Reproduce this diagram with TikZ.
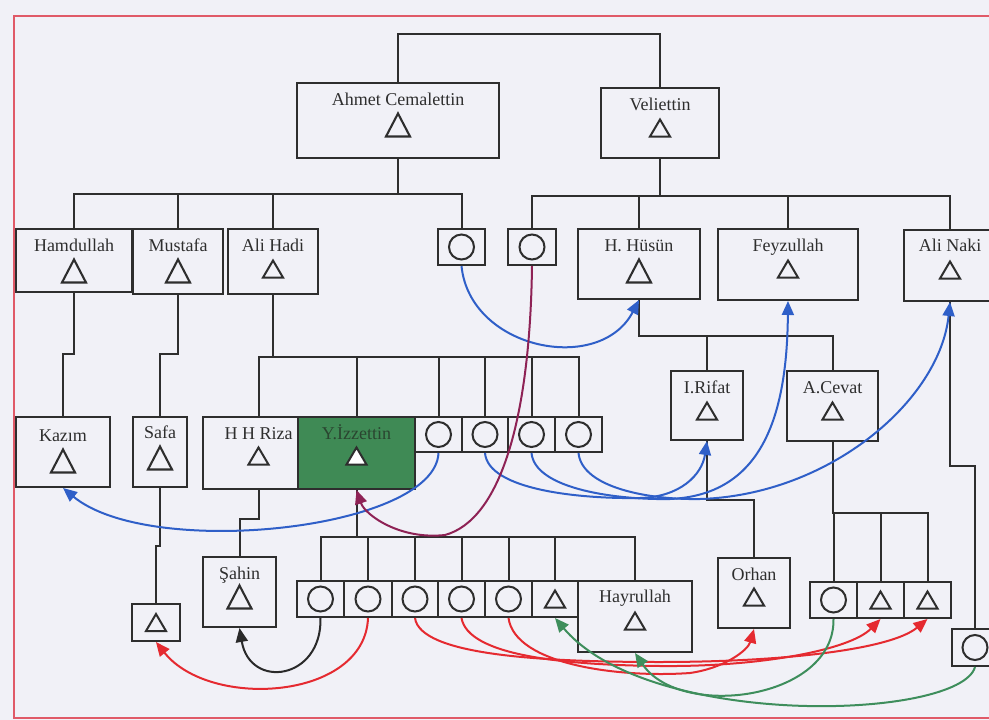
\documentclass[tikz,border=0pt]{standalone}
\usepackage{fontspec}
\setmainfont{Liberation Serif}
\usetikzlibrary{arrows.meta,fit,calc}
\definecolor{bg}{HTML}{F1F1F7}
\definecolor{frm}{HTML}{E05A68}
\definecolor{ink}{HTML}{2E2E2E}
\definecolor{izgreen}{HTML}{3F8A55}
\definecolor{iztext}{HTML}{2A4530}
\definecolor{ablue}{HTML}{2F5FC8}
\definecolor{ared}{HTML}{E52A30}
\definecolor{agreen}{HTML}{3E8E5C}
\definecolor{amaroon}{HTML}{8E2255}
\definecolor{ablack}{HTML}{2A2A2A}
\tikzset{
  box/.style={draw=ink, line width=2pt, inner sep=0pt, rectangle},
  lbl/.style={font=\fontsize{18}{20}\selectfont, text=ink, anchor=base, inner sep=0pt},
  bigtri/.pic={\draw[ink, line width=2.1pt] (-12,11.5) -- (12,11.5) -- (0,-11.5) -- cycle;},
  tri/.pic={\draw[ink, line width=2pt] (-10,8.5) -- (10,8.5) -- (0,-8.5) -- cycle;},
  whtri/.pic={\draw[ink, fill=white, line width=2pt] (-10,8.5) -- (10,8.5) -- (0,-8.5) -- cycle;},
  circ/.pic={\draw[ink, line width=2pt] (0,0) circle[radius=12.5pt];},
  tline/.style={draw=ink, line width=2pt},
  rel/.style={line width=2pt, -{Triangle[length=14pt,width=12pt]}},
}
\newcommand\mkbox[6][]{\node[box,#1,fit={(#3,#4) (#5,#6)}] (#2) {};}
\begin{document}
\begin{tikzpicture}[x=1pt,y=-1pt]
\path[use as bounding box, fill=bg] (0,0) rectangle (989,720);
\clip (0,0) rectangle (989,720);
\draw[frm, line width=2pt] (14,16) rectangle (1010,718);

% ---------- boxes ----------
\mkbox{ahmet}{297}{83}{499}{158}
\mkbox{veli}{601}{88}{719}{158}
\mkbox{hamd}{16}{229}{132}{292}
\mkbox{must}{133}{229}{223}{294}
\mkbox{alih}{228}{229}{318}{294}
\mkbox{cA}{438}{229}{485}{265}
\mkbox{cV}{508}{229}{556}{265}
\mkbox{husun}{578}{229}{700}{299}
\mkbox{feyz}{718}{229}{858}{300}
\mkbox{naki}{904}{230}{996}{301}
\mkbox{kazim}{16}{417}{110}{487}
\mkbox{safa}{133}{417}{187}{487}
\mkbox{stri}{132}{604}{180}{641}
\mkbox{hhr}{203}{417}{298}{489}
\mkbox[fill=izgreen]{yiz}{298}{417}{415}{489}
\mkbox{r1}{415}{417}{462}{452}
\mkbox{r2}{462}{417}{508}{452}
\mkbox{r3}{508}{417}{555}{452}
\mkbox{r4}{555}{417}{602}{452}
\mkbox{sahin}{203}{557}{276}{627}
\mkbox{c1}{297}{581}{344}{617}
\mkbox{c2}{344}{581}{392}{617}
\mkbox{c3}{392}{581}{438}{617}
\mkbox{c4}{438}{581}{485}{617}
\mkbox{c5}{485}{581}{532}{617}
\mkbox{t6}{532}{581}{578}{617}
\mkbox{hayr}{578}{581}{692}{652}
\mkbox{rifat}{671}{371}{743}{440}
\mkbox{cevat}{787}{371}{878}{441}
\mkbox{orhan}{718}{558}{790}{628}
\mkbox{cc1}{810}{582}{857}{618}
\mkbox{ct2}{857}{582}{904}{618}
\mkbox{ct3}{904}{582}{951}{618}
\mkbox{nc}{952}{629}{998}{666}

% ---------- labels ----------
\node[lbl] (ahmet-t) at ($(ahmet.north)+(0,23)$) {Ahmet Cemalettin};
\pic at ($(ahmet.north)+(0,43)$) {bigtri};
\node[lbl] (veli-t) at ($(veli.north)+(0,23)$) {Veliettin};
\pic at ($(veli.north)+(0,41)$) {tri};
\node[lbl] (hamd-t) at ($(hamd.north)+(0,23)$) {Hamdullah};
\pic at ($(hamd.north)+(0,43)$) {bigtri};
\node[lbl] (must-t) at ($(must.north)+(0,23)$) {Mustafa};
\pic at ($(must.north)+(0,43)$) {bigtri};
\node[lbl] (alih-t) at ($(alih.north)+(0,23)$) {Ali Hadi};
\pic at ($(alih.north)+(0,41)$) {tri};
\node[lbl] (husun-t) at ($(husun.north)+(0,23)$) {H. Hüsün};
\pic at ($(husun.north)+(0,43)$) {bigtri};
\node[lbl] (feyz-t) at ($(feyz.north)+(0,23)$) {Feyzullah};
\pic at ($(feyz.north)+(0,41)$) {tri};
\node[lbl] (naki-t) at ($(naki.north)+(0,22)$) {Ali Naki};
\pic at ($(naki.north)+(0,41)$) {tri};
\node[lbl] (kazim-t) at ($(kazim.north)+(0,25)$) {Kazım};
\pic at ($(kazim.north)+(0,45)$) {bigtri};
\node[lbl] (safa-t) at ($(safa.north)+(0,22)$) {Safa};
\pic at ($(safa.north)+(0,42)$) {bigtri};
\node[lbl] (hhr-t) at ($(hhr.north)+(8,23)$) {H H Riza};
\pic at ($(hhr.north)+(8,40)$) {tri};
\node[lbl, text=iztext] (yiz-t) at ($(yiz.north)+(0,23)$) {Y.İzzettin};
\pic at ($(yiz.north)+(0,40)$) {whtri};
\node[lbl] (sahin-t) at ($(sahin.north)+(0,23)$) {Şahin};
\pic at ($(sahin.north)+(0,41)$) {bigtri};
\node[lbl] (hayr-t) at ($(hayr.north)+(0,22)$) {Hayrullah};
\pic at ($(hayr.north)+(0,41)$) {tri};
\node[lbl] (rifat-t) at ($(rifat.north)+(0,23)$) {I.Rifat};
\pic at ($(rifat.north)+(0,41)$) {tri};
\node[lbl] (cevat-t) at ($(cevat.north)+(0,23)$) {A.Cevat};
\pic at ($(cevat.north)+(0,41)$) {tri};
\node[lbl] (orhan-t) at ($(orhan.north)+(0,23)$) {Orhan};
\pic at ($(orhan.north)+(0,40)$) {tri};
\pic at (stri.center) {tri};
\pic at (t6.center) {tri};
\pic at (ct2.center) {tri};
\pic at (ct3.center) {tri};
\foreach \c in {cA,cV,r1,r2,r3,r4,c1,c2,c3,c4,c5,cc1,nc} {\pic at (\c.center) {circ};}

% ---------- family lines ----------
\draw[tline] (ahmet.north) -- ++(0,-48) -| (veli.north);
\coordinate (aj) at ($(ahmet.south)+(0,35)$);
\draw[tline] (ahmet.south) -- (aj);
\draw[tline] (hamd.north) |- (cA.north |- aj) -- (cA.north);
\draw[tline] (must.north) -- (must.north |- aj);
\draw[tline] (alih.north) -- (alih.north |- aj);

\coordinate (vj) at ($(veli.south)+(0,37)$);
\draw[tline] (veli.south) -- (vj);
\draw[tline] (cV.north) |- (naki.north |- vj) -- (naki.north);
\draw[tline] (husun.north) -- (husun.north |- vj);
\draw[tline] (feyz.north) -- (feyz.north |- vj);

\draw[tline] (hamd.south) -- ++(0,61) -| (kazim.north);
\draw[tline] (must.south) -- ++(0,59) -| (safa.north);
\draw[tline] (safa.south) -- ++(0,58) -| (stri.north);

\coordinate (hj) at ($(alih.south)+(0,62)$);
\draw[tline] (alih.south) -- (hj);
\draw[tline] ([xshift=8pt]hhr.north) |- (r4.north |- hj) -- (r4.north);
\foreach \c in {yiz,r1,r2,r3} {\draw[tline] (\c.north) -- (\c.north |- hj);}

\draw[tline] ([xshift=8pt]hhr.south) -- ++(0,29) -| (sahin.north);

\coordinate (yj) at ($(yiz.south)+(0,47)$);
\draw[tline] (yiz.south) -- (yj);
\draw[tline] (c1.north) |- (hayr.north |- yj) -- (hayr.north);
\foreach \c in {c2,c3,c4,c5,t6} {\draw[tline] (\c.north) -- (\c.north |- yj);}

\coordinate (uj) at ($(husun.south)+(0,36)$);
\draw[tline] (husun.south) |- (cevat.north |- uj) -- (cevat.north);
\draw[tline] (rifat.north) -- (rifat.north |- uj);

\draw[tline] (rifat.south) -- ++(0,59) -| (orhan.north);

\coordinate (cj) at ($(cevat.south)+(0,71)$);
\draw[tline] (cevat.south) |- (ct3.north |- cj) -- (ct3.north);
\draw[tline] (cc1.north) -- (cc1.north |- cj);
\draw[tline] (ct2.north) -- (ct2.north |- cj);

\draw[tline] (naki.south) -- ++(0,164) -| (nc.north);

% ---------- relation arrows ----------
\draw[rel, ablue] (cA.south) .. controls (470,350) and (600,375) .. (husun.south);
\draw[rel, ablue] (r1.south) .. controls (435,530) and (150,560) .. (kazim.south);
\draw[rel, ablue] (r2.south) .. controls (488,490) and (580,499) .. (640,498)
   .. controls (680,497) and (702,475) .. (rifat.south);
\draw[rel, ablue] (r3.south) .. controls (535,490) and (620,500) .. (670,499)
   .. controls (760,495) and (787,420) .. (feyz.south);
\draw[rel, ablue] (r4.south) .. controls (582,488) and (650,500) .. (700,499)
   .. controls (830,495) and (940,400) .. (naki.south);

\draw[rel, amaroon] (cV.south) .. controls (530,420) and (500,520) .. (445,535)
   .. controls (400,540) and (365,515) .. (yiz.south);

\draw[rel, ablack] (c1.south) .. controls (322,680) and (250,690) .. (sahin.south);

\draw[rel, ared] (c2.south) .. controls (365,700) and (210,710) .. (stri.south);
\draw[rel, ared] (c3.south) .. controls (420,655) and (540,662) .. (660,662)
   .. controls (780,662) and (890,650) .. (ct3.south);
\draw[rel, ared] (c4.south) .. controls (468,655) and (560,665) .. (660,666)
   .. controls (760,667) and (850,650) .. (ct2.south);
\draw[rel, ared] (c5.south) .. controls (515,665) and (620,678) .. (690,673)
   .. controls (725,668) and (748,650) .. (orhan.south);

\draw[rel, agreen] (cc1.south) .. controls (835,700) and (680,720) .. (hayr.south);
\draw[rel, agreen] (nc.south) .. controls (960,720) and (650,730) .. (t6.south);
\end{tikzpicture}
\end{document}
